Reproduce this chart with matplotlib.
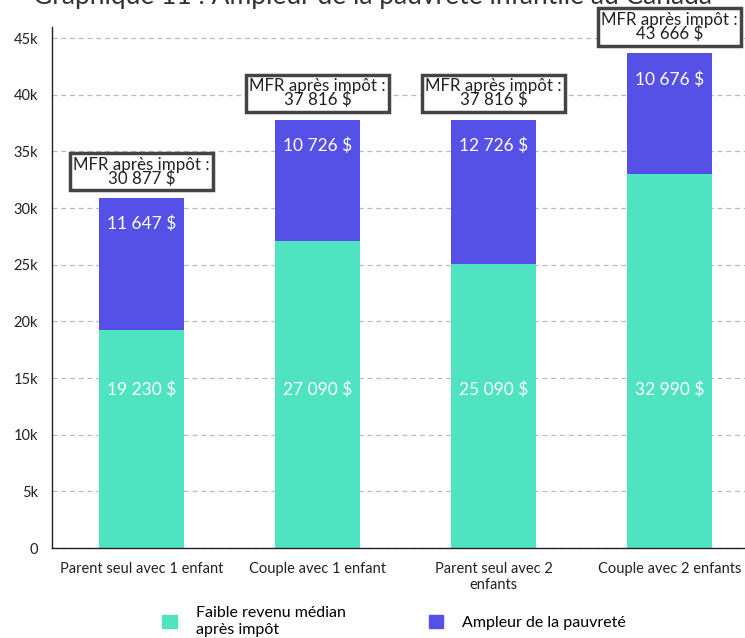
import matplotlib.pyplot as plt
from matplotlib.patches import Patch

plt.rcParams['font.family'] = ['Lato', 'DejaVu Sans']

categories = ["Parent seul avec 1 enfant", "Couple avec 1 enfant",
              "Parent seul avec 2\nenfants", "Couple avec 2 enfants"]
revenu_median = [19230, 27090, 25090, 32990]
ampleur = [11647, 10726, 12726, 10676]
revenu_labels = ["19 230 $", "27 090 $", "25 090 $", "32 990 $"]
ampleur_labels = ["11 647 $", "10 726 $", "12 726 $", "10 676 $"]
mfr_labels = ["30 877 $", "37 816 $", "37 816 $", "43 666 $"]
yticks = [0, 5000, 10000, 15000, 20000, 25000, 30000, 35000, 40000, 45000]
ytick_labels = ["0", "5k", "10k", "15k", "20k", "25k", "30k", "35k", "40k", "45k"]

green = "#50e3c2"
blue = "#5551e6"

fig = plt.figure(figsize=(7.45, 6.38), dpi=100)
ax = fig.add_axes([0.0698, 0.141, 0.9302, 0.817])

x = range(len(categories))
width = 0.485
ax.bar(x, revenu_median, width, color=green, zorder=2)
ax.bar(x, ampleur, width, bottom=revenu_median, color=blue, zorder=2)

for i in x:
    total = revenu_median[i] + ampleur[i]
    ax.text(i, 14000, revenu_labels[i], ha="center", va="center",
            color="white", fontsize=12.5, zorder=3)
    ax.text(i, total - 2300, ampleur_labels[i], ha="center", va="center",
            color="white", fontsize=12.5, zorder=3)
    ax.annotate("MFR après impôt :\n" + mfr_labels[i], xy=(i, total),
                xytext=(0, 8), textcoords="offset points",
                ha="center", va="bottom", fontsize=12.2, color="#222222",
                linespacing=0.85, zorder=4, annotation_clip=False,
                bbox=dict(boxstyle="square,pad=0.2", fc="white",
                          ec="#444444", lw=2.5))

ax.set_xlim(-0.51, 3.43)
ax.set_ylim(0, 46000)
ax.set_xticks(list(x))
ax.set_xticklabels(categories, fontsize=10.5, color="#222222")
ax.set_yticks(yticks)
ax.set_yticklabels(ytick_labels, fontsize=10.5, color="#222222")
ax.tick_params(axis="x", length=0, pad=10)
ax.tick_params(axis="y", length=0, pad=10)
ax.yaxis.grid(True, linestyle=(0, (4, 3)), color="#bbbbbb", linewidth=0.9, zorder=0)
ax.set_axisbelow(True)
for side in ["top", "right"]:
    ax.spines[side].set_visible(False)
for side in ["left", "bottom"]:
    ax.spines[side].set_color("#222222")
    ax.spines[side].set_linewidth(1)

fig.text(0.5, 1.006, "Graphique 11 : Ampleur de la pauvreté infantile au Canada",
         ha="center", va="center", fontsize=19, color="#333333")

handles = [Patch(color=green, label="Faible revenu médian\naprès impôt"),
           Patch(color=blue, label="Ampleur de la pauvreté")]
fig.legend(handles=handles, loc="center", bbox_to_anchor=(0.529, 0.026),
           ncol=2, frameon=False, fontsize=11.5, handlelength=0.9,
           handleheight=0.9, columnspacing=5.2, labelspacing=0,
           handletextpad=1.2)

fig.savefig("out.png", dpi=100)
